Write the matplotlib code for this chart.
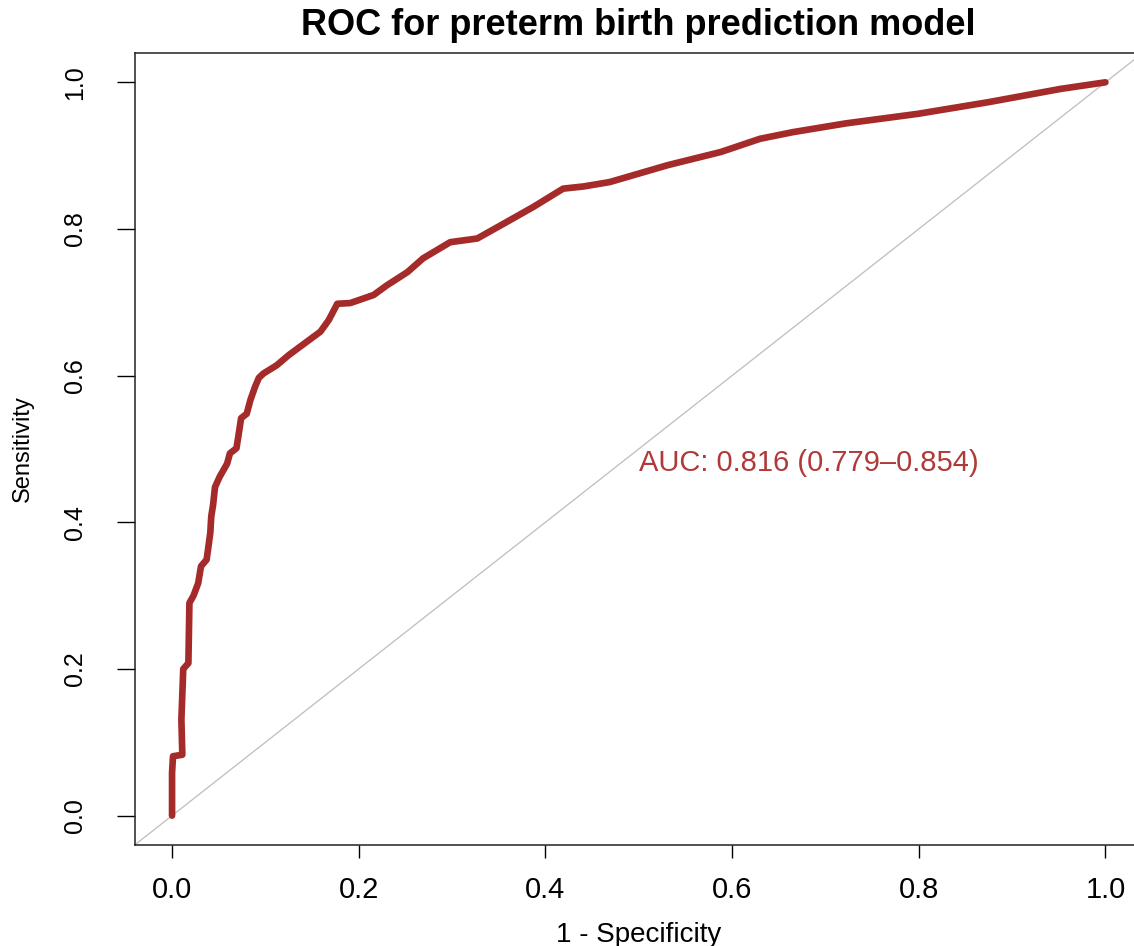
import matplotlib
matplotlib.use('Agg')
import matplotlib.pyplot as plt

plt.rcParams['font.family'] = ['Liberation Sans', 'DejaVu Sans']

# ROC curve points (1 - specificity, sensitivity)
fpr = [0.000, 0.000, 0.001, 0.011, 0.010, 0.012, 0.0175, 0.0186, 0.023, 0.028,
       0.031, 0.037, 0.039, 0.041, 0.042, 0.044, 0.046, 0.051, 0.059, 0.062,
       0.069, 0.071, 0.074, 0.080, 0.084, 0.089, 0.093, 0.098, 0.112, 0.125,
       0.159, 0.168, 0.177, 0.191, 0.216, 0.230, 0.252, 0.269, 0.298, 0.327,
       0.355, 0.387, 0.419, 0.441, 0.469, 0.531, 0.588, 0.630, 0.665, 0.722,
       0.799, 0.875, 0.952, 1.000]
tpr = [0.000, 0.058, 0.081, 0.083, 0.131, 0.200, 0.208, 0.290, 0.300, 0.317,
       0.340, 0.349, 0.367, 0.386, 0.408, 0.424, 0.448, 0.462, 0.480, 0.494,
       0.501, 0.517, 0.542, 0.548, 0.567, 0.585, 0.597, 0.603, 0.614, 0.628,
       0.660, 0.676, 0.698, 0.699, 0.710, 0.723, 0.741, 0.760, 0.782, 0.787,
       0.807, 0.830, 0.855, 0.858, 0.864, 0.887, 0.905, 0.923, 0.932, 0.944,
       0.957, 0.973, 0.991, 1.000]

ticks = [0.0, 0.2, 0.4, 0.6, 0.8, 1.0]
tick_labels = ['0.0', '0.2', '0.4', '0.6', '0.8', '1.0']
auc_label = 'AUC: 0.816 (0.779\u20130.854)'
curve_color = '#A52A2A'

fig = plt.figure(figsize=(11.34, 9.46), dpi=100)
ax = fig.add_axes([0.1188, 0.1068, 0.8889, 0.8372])

# chance line, clipped to the plot region like abline()
ax.axline((0, 0), (1, 1), color='#bdbdbd', lw=0.9, zorder=1)
ax.plot(fpr, tpr, color=curve_color, lw=4.8, solid_capstyle='round',
        solid_joinstyle='round', zorder=2)

ax.text(0.5, 0.481, auc_label, color='#B03A3A', fontsize=21,
        ha='left', va='center')

ax.set_xlim(-0.04, 1.04)
ax.set_ylim(-0.04, 1.04)
ax.set_xticks(ticks)
ax.set_xticklabels(tick_labels)
ax.set_yticks(ticks)
ax.set_yticklabels(tick_labels, rotation=90, va='center')
ax.tick_params(axis='x', length=9.4, width=1, pad=13, labelsize=21)
ax.tick_params(axis='y', length=13, width=1, pad=21, labelsize=18)

for spine in ax.spines.values():
    spine.set_linewidth(1.1)
    spine.set_color('#222222')

ax.set_title('ROC for preterm birth prediction model', fontsize=26,
             fontweight='bold', pad=13)
ax.set_xlabel('1 - Specificity', fontsize=20, labelpad=13)
ax.set_ylabel('Sensitivity', fontsize=17, labelpad=21)

fig.savefig('out.png', dpi=100)
plt.close(fig)
